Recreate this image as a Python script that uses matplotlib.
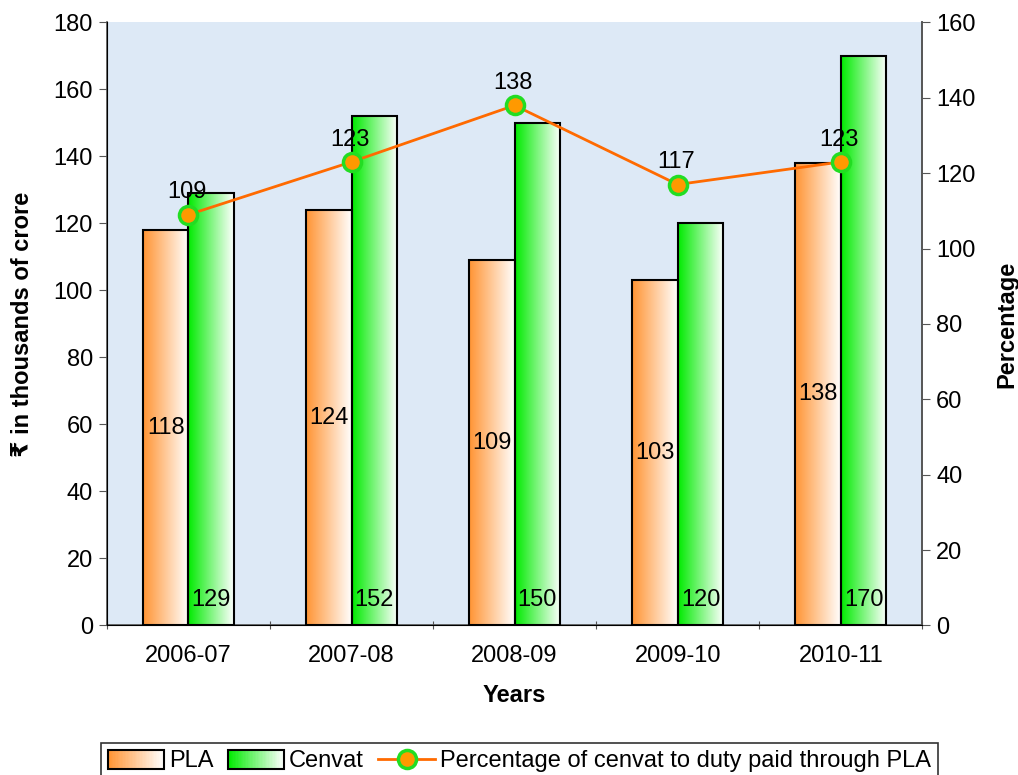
import numpy as np
import matplotlib
matplotlib.use("Agg")
import matplotlib.pyplot as plt
from matplotlib.patches import Rectangle
from matplotlib.lines import Line2D
from matplotlib.legend_handler import HandlerBase

plt.rcParams['font.family'] = ['Liberation Sans', 'DejaVu Sans']

# data
years = ['2006-07', '2007-08', '2008-09', '2009-10', '2010-11']
pla = [118, 124, 109, 103, 138]
cenvat = [129, 152, 150, 120, 170]
pct = [109, 123, 138, 117, 123]

orange = (1.0, 0.58, 0.2)
green = (0.0, 0.92, 0.0)
line_col = '#ff6a00'
FS = 17


def grad(c):
    # left colour -> white
    t = np.linspace(0, 1, 256)
    c = np.array(c)
    arr = (1 - t)[:, None] * c[None, :] + t[:, None] * np.ones(3)[None, :]
    return arr[None, :, :]


class GradHandler(HandlerBase):
    def __init__(self, col):
        super().__init__()
        self.col = col

    def create_artists(self, legend, orig, x0, y0, width, height, fontsize, trans):
        arts = []
        n = 40
        w = width
        for k in range(n):
            t = k / (n - 1)
            c = tuple((1 - t) * np.array(self.col) + t)
            arts.append(Rectangle((x0 + k * w / n, y0 - 1), w / n + 0.3, height + 2,
                                  facecolor=c, edgecolor='none', transform=trans))
        arts.append(Rectangle((x0, y0 - 1), w, height + 2, facecolor='none',
                              edgecolor='black', lw=1.5, transform=trans))
        return arts


fig = plt.figure(figsize=(10.18, 7.75), dpi=100)
ax = fig.add_axes([0.105, 0.193, 0.801, 0.778])
ax.set_facecolor('#dde9f6')

x = np.arange(len(years))
w = 0.28
b1 = ax.bar(x - w / 2, pla, w, facecolor='none', edgecolor='black', lw=1.5, zorder=3)
b2 = ax.bar(x + w / 2, cenvat, w, facecolor='none', edgecolor='black', lw=1.5, zorder=3)
for bars, col in ((b1, orange), (b2, green)):
    for r in bars:
        x0, y0 = r.get_x(), r.get_y()
        ax.imshow(grad(col), extent=[x0, x0 + r.get_width(), y0, y0 + r.get_height()],
                  aspect='auto', zorder=2, interpolation='bilinear')

for i in range(len(years)):
    ax.text(x[i] - w / 2, pla[i] / 2, str(pla[i]), ha='center', va='center', fontsize=FS, zorder=5)
    ax.text(x[i] + w / 2, 7.5, str(cenvat[i]), ha='center', va='center', fontsize=FS, zorder=5)

ax.set_xlim(-0.5, 4.5)
ax.set_ylim(0, 180)
ax.set_yticks(range(0, 181, 20))
ax.set_xticks(np.arange(-0.5, 5, 1))
ax.set_xticklabels([])
ax.set_xticks(x, minor=True)
ax.set_xticklabels(years, minor=True)
ax.tick_params(axis='x', which='minor', length=0, labelsize=FS, pad=14)
ax.tick_params(axis='x', which='major', length=6, direction='inout', color='#555555')
ax.tick_params(axis='y', labelsize=FS, length=6, color='#555555', pad=4)
ax.spines['top'].set_visible(False)
for s in ['left', 'bottom', 'right']:
    ax.spines[s].set_color('#555555')
    ax.spines[s].set_linewidth(1.2)
ax.set_xlabel('Years', fontsize=FS, fontweight='bold', labelpad=12)
ax.set_ylabel('₹ in thousands of crore', fontsize=FS, fontweight='bold', labelpad=14)

ax2 = ax.twinx()
ax2.set_ylim(0, 160)
ax2.set_yticks(range(0, 161, 20))
ax2.tick_params(axis='y', labelsize=FS, length=6, color='#555555', pad=4)
ax2.spines['top'].set_visible(False)
ax2.spines['right'].set_color('#555555')
ax2.spines['right'].set_linewidth(1.2)
ax2.plot(x, pct, color=line_col, lw=2, marker='o', markersize=13,
         markerfacecolor='#ff9900', markeredgecolor='#22dd22', markeredgewidth=2.5, zorder=6)
for i in range(len(years)):
    ax2.annotate(str(pct[i]), (x[i], pct[i]), xytext=(-1, 16), textcoords='offset points',
                 ha='center', va='center', fontsize=FS, zorder=7)
ax2.set_ylabel('Percentage', fontsize=FS, fontweight='bold', labelpad=14)

h_line = Line2D([], [], color=line_col, lw=2, marker='o', markersize=13,
                markerfacecolor='#ff9900', markeredgecolor='#22dd22', markeredgewidth=2.5)
h1 = Rectangle((0, 0), 1, 1)
h2 = Rectangle((0, 0), 1, 1, facecolor='g')
leg = fig.legend([h1, h2, h_line], ['PLA', 'Cenvat', 'Percentage of cenvat to duty paid through PLA'],
                 handler_map={h1: GradHandler(orange), h2: GradHandler(green)},
                 loc='lower center', bbox_to_anchor=(0.51, -0.012), ncol=3, fontsize=FS,
                 frameon=True, fancybox=False, edgecolor='black', handlelength=2.4,
                 handletextpad=0.2, columnspacing=0.6, borderpad=0.3, borderaxespad=0.2)
leg.get_frame().set_linewidth(1.2)

fig.savefig('out.png', dpi=100)
